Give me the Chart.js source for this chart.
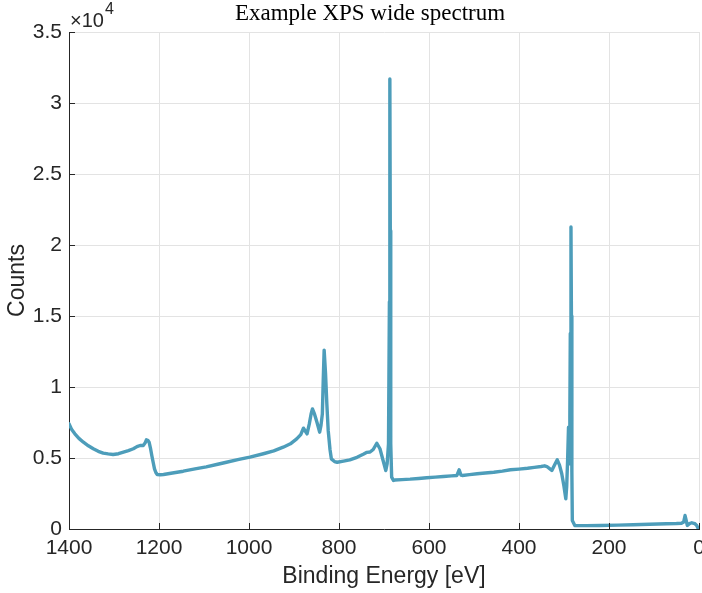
<!DOCTYPE html>
<html>
<head>
<meta charset="utf-8">
<script src="https://cdn.jsdelivr.net/npm/chart.js@4.4.0/dist/chart.umd.min.js"></script>
<style>
  html, body { margin: 0; padding: 0; background: #ffffff; }
  canvas { display: block; }
</style>
</head>
<body>
<canvas id="grafico" width="702" height="593"></canvas>
<script>
// binding energy (eV) and counts
const energia = [
  1400, 1394, 1387, 1378, 1368, 1357, 1346, 1335, 1324, 1313, 1302, 1290, 1279, 1268, 1257, 1249,
  1242, 1235, 1231, 1228, 1225, 1222, 1219, 1216, 1213, 1210, 1207, 1204, 1197, 1190, 1170, 1146,
  1120, 1095, 1072, 1050, 1025, 998, 968, 945, 924, 908, 894, 885, 879, 875, 871, 866,
  862, 859, 855, 849, 843, 840, 837, 835, 833, 830, 827, 824, 820, 817, 810, 804,
  790, 776, 760, 745, 738, 731, 724, 716, 709, 702, 696, 693, 690, 688, 687, 686,
  685, 683, 679, 676, 660, 642, 623, 605, 586, 568, 550, 538, 533, 529, 526, 510,
  493, 475, 456, 437, 419, 400, 381, 366, 351, 343, 338, 332, 327, 321, 315, 310,
  305, 300, 296, 294, 292, 290, 288, 287, 286, 284.5, 283.5, 282.5, 281.5, 276, 250, 220,
  180, 146, 110, 72, 50, 39, 34, 31, 28.5, 26, 21, 16, 12, 9, 5, 1.5, 0
];
const cuentas = [
  7410, 7000, 6700, 6380, 6110, 5860, 5650, 5470, 5340, 5290, 5250, 5300, 5410, 5520, 5650, 5800,
  5880, 5880, 6050, 6280, 6250, 6110, 5700, 5180, 4700, 4240, 3980, 3840, 3820, 3840, 3940, 4070,
  4230, 4380, 4540, 4700, 4880, 5060, 5300, 5500, 5760, 6000, 6350, 6650, 7100, 6900, 6700, 7400,
  8100, 8460, 8150, 7520, 6820, 7300, 8110, 10500, 12600, 11000, 8800, 6940, 5600, 4940, 4750, 4700,
  4780, 4870, 5050, 5280, 5400, 5420, 5600, 6040, 5650, 4820, 4120, 4600, 6000, 16000, 31690, 21000,
  6000, 3650, 3420, 3450, 3480, 3510, 3560, 3610, 3650, 3700, 3740, 3770, 4170, 3800, 3770, 3830,
  3890, 3940, 4000, 4080, 4170, 4220, 4280, 4340, 4400, 4450, 4400, 4250, 4120, 4500, 4870, 4500,
  3890, 3000, 2130, 3000, 4820, 7170, 4590, 8000, 13770, 21270, 15000, 4000, 600, 250, 240, 250,
  270, 300, 330, 370, 390, 410, 500, 950, 600, 250, 380, 440, 400, 370, 250, 10, 0
];

const titulo = 'Example XPS wide spectrum';
const tituloX = 'Binding Energy [eV]';
const tituloY = 'Counts';

const puntos = energia.map((e, i) => ({ x: e, y: cuentas[i] }));

const colorTexto = '#262626';
const fuente = '"Liberation Sans", Arial, Helvetica, sans-serif';

// titulo, exponente del eje y y marcas hacia adentro
const extras = {
  id: 'extras',
  afterDraw(chart) {
    const ctx = chart.ctx;
    const area = chart.chartArea;
    const sx = chart.scales.x;
    const sy = chart.scales.y;
    ctx.save();
    ctx.strokeStyle = colorTexto;
    ctx.lineWidth = 1;
    ctx.beginPath();
    sx.ticks.forEach(t => {
      const px = Math.round(sx.getPixelForValue(t.value)) + 0.5;
      ctx.moveTo(px, area.bottom);
      ctx.lineTo(px, area.bottom - 6);
    });
    sy.ticks.forEach(t => {
      const py = Math.round(sy.getPixelForValue(t.value)) + 0.5;
      ctx.moveTo(area.left, py);
      ctx.lineTo(area.left + 6, py);
    });
    ctx.stroke();

    ctx.fillStyle = '#000000';
    ctx.font = '23px "Liberation Serif", "Times New Roman", serif';
    ctx.textAlign = 'center';
    ctx.textBaseline = 'alphabetic';
    ctx.fillText(titulo, 370, 20);

    ctx.fillStyle = colorTexto;
    ctx.textAlign = 'left';
    ctx.font = '20px ' + fuente;
    ctx.fillText('\u00d710', 70, 27);
    const w = ctx.measureText('\u00d710').width;
    ctx.font = '16px ' + fuente;
    ctx.fillText('4', 70 + w + 1, 14);
    ctx.restore();
  }
};

new Chart(document.getElementById('grafico'), {
  type: 'line',
  data: {
    datasets: [{
      data: puntos,
      borderColor: '#4d9dba',
      borderWidth: 3.4,
      borderJoinStyle: 'round',
      borderCapStyle: 'round',
      pointRadius: 0,
      tension: 0,
      fill: false
    }]
  },
  options: {
    responsive: false,
    animation: false,
    devicePixelRatio: 1,
    parsing: false,
    layout: { padding: { top: 32, right: 3, left: 0, bottom: 0 } },
    plugins: {
      legend: { display: false },
      tooltip: { enabled: false }
    },
    scales: {
      x: {
        type: 'linear',
        reverse: true,
        min: 0,
        max: 1400,
        afterFit(scale) {
          scale.height = 64;
          scale.paddingLeft = 0;
          scale.paddingRight = 0;
        },
        grid: { color: '#e3e3e3', drawTicks: false },
        border: { display: true, color: colorTexto, width: 1 },
        ticks: {
          stepSize: 200,
          padding: 7,
          color: colorTexto,
          font: { family: fuente, size: 21 },
          maxRotation: 0,
          callback: v => String(v)
        },
        title: {
          display: true,
          text: tituloX,
          color: colorTexto,
          font: { family: fuente, size: 23 },
          padding: { top: 0, bottom: 3 }
        }
      },
      y: {
        min: 0,
        max: 35000,
        afterFit(scale) {
          scale.width = 69;
          scale.paddingTop = 0;
          scale.paddingBottom = 0;
        },
        grid: { color: '#e3e3e3', drawTicks: false },
        border: { display: true, color: colorTexto, width: 1 },
        ticks: {
          stepSize: 5000,
          padding: 7,
          color: colorTexto,
          font: { family: fuente, size: 21 },
          callback: v => String(v / 10000)
        },
        title: {
          display: true,
          text: tituloY,
          color: colorTexto,
          font: { family: fuente, size: 23 },
          padding: { top: 4, bottom: 0 }
        }
      }
    }
  },
  plugins: [extras]
});
</script>
</body>
</html>
